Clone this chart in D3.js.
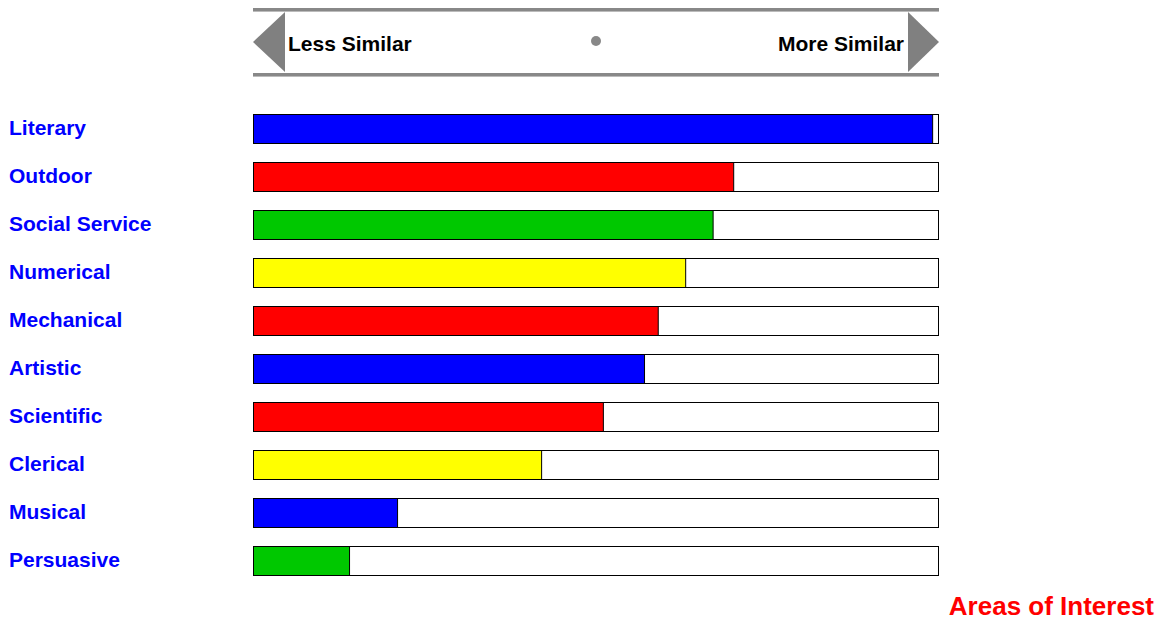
<!DOCTYPE html>
<html>
<head>
<meta charset="utf-8">
<script src="https://d3js.org/d3.v7.min.js"></script>
<style>
  body { margin: 0; background: #fff; }
  text { font-family: "Liberation Sans", Arial, sans-serif; font-weight: bold; }
</style>
</head>
<body>
<svg width="1166" height="620"></svg>
<script>
// data (share of the full scale)
var areas = ["Literary", "Outdoor", "Social Service", "Numerical", "Mechanical",
             "Artistic", "Scientific", "Clerical", "Musical", "Persuasive"];
var scores = [0.99, 0.70, 0.67, 0.63, 0.59, 0.57, 0.51, 0.42, 0.21, 0.14];
var barColors = ["#0000ff", "#ff0000", "#00c800", "#ffff00", "#ff0000",
                 "#0000ff", "#ff0000", "#ffff00", "#0000ff", "#00c800"];
var scaleLabels = ["Less Similar", "More Similar"];

var svg = d3.select("svg");
var left = 253, right = 939;

var x = d3.scaleLinear().domain([0, 1]).range([left, right]);
var y = d3.scaleBand().domain(areas).range([105, 585]).paddingInner(0.375).paddingOuter(0.1875);

// header strip
var head = svg.append("g");
head.append("rect").attr("x", left).attr("y", 8).attr("width", right - left).attr("height", 3).attr("fill", "#888");
head.append("rect").attr("x", left).attr("y", 11).attr("width", right - left).attr("height", 1).attr("fill", "#bbb");
head.append("rect").attr("x", left).attr("y", 73).attr("width", right - left).attr("height", 3).attr("fill", "#888");
head.append("rect").attr("x", left).attr("y", 76).attr("width", right - left).attr("height", 1).attr("fill", "#bbb");
head.append("path").attr("d", "M" + left + ",42 L285,12 L285,72 Z").attr("fill", "#808080");
head.append("path").attr("d", "M" + right + ",42 L908,12 L908,72 Z").attr("fill", "#808080");
head.append("circle").attr("cx", 596).attr("cy", 41).attr("r", 5).attr("fill", "#888");
head.append("text").attr("x", 288).attr("y", 51).attr("font-size", 21).attr("fill", "#000").text(scaleLabels[0]);
head.append("text").attr("x", 904).attr("y", 51).attr("font-size", 21).attr("fill", "#000")
  .attr("text-anchor", "end").text(scaleLabels[1]);

// bars
var rows = svg.selectAll("g.row").data(areas).enter().append("g").attr("class", "row");

rows.append("rect")
  .attr("x", x(0) + 0.5)
  .attr("y", function (d) { return Math.round(y(d)) + 0.5; })
  .attr("width", x(1) - x(0) - 1)
  .attr("height", 29)
  .attr("fill", "#fff")
  .attr("stroke", "#000");

rows.append("rect")
  .attr("x", x(0) + 0.5)
  .attr("y", function (d) { return Math.round(y(d)) + 0.5; })
  .attr("width", function (d, i) { return x(scores[i]) - x(0); })
  .attr("height", 29)
  .attr("fill", function (d, i) { return barColors[i]; })
  .attr("stroke", "#000");

rows.append("text")
  .attr("x", 9)
  .attr("y", function (d) { return Math.round(y(d)) + 21; })
  .attr("font-size", 21)
  .attr("fill", "#0000ff")
  .text(function (d) { return d; });

svg.append("text")
  .attr("x", 1154).attr("y", 615)
  .attr("text-anchor", "end")
  .attr("font-size", 26)
  .attr("fill", "#ff0000")
  .text("Areas of Interest");
</script>
</body>
</html>
